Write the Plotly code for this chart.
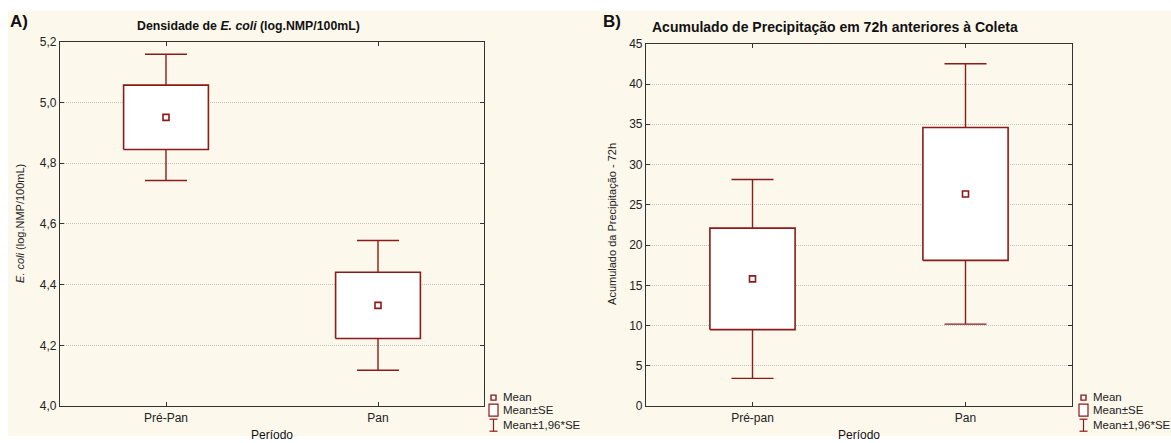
import plotly.graph_objects as go

# ---- data ----
cats_a = ["Pré-Pan", "Pan"]
mean_a = [4.951, 4.332]
se_a = [0.106, 0.109]

cats_b = ["Pré-pan", "Pan"]
mean_b = [15.8, 26.35]
se_b = [6.3, 8.25]

yticks_a = [4.0, 4.2, 4.4, 4.6, 4.8, 5.0, 5.2]
yticks_b = [0, 5, 10, 15, 20, 25, 30, 35, 40, 45]

legend_labels = ["Mean", "Mean±SE", "Mean±1,96*SE"]

RED = "#8b1a1a"
CREAM = "#fdf8ec"
W, H = 1171, 443
FONT = "Liberation Sans, Arial, sans-serif"

# the viewer fits the figure into a slightly shorter area; map screen pixels to paper
Y_OFF, Y_EFF = 6.3, 428.5


def px(x):
    return x / W


def py(y):
    return 1 - (y - Y_OFF) / Y_EFF


fig = go.Figure()


def add_panel(cats, mean, se, xa, ya):
    xs = list(range(len(cats)))
    # whiskers (Mean ± 1.96*SE)
    fig.add_trace(go.Scatter(
        x=xs, y=mean, mode="markers", xaxis=xa, yaxis=ya,
        marker=dict(size=1, color="rgba(0,0,0,0)"),
        error_y=dict(type="data", array=[1.96 * s for s in se], visible=True,
                     color=RED, thickness=1.4, width=21),
        name=legend_labels[2], showlegend=False, hoverinfo="skip"))
    # boxes (Mean ± SE)
    for i, (m, s) in enumerate(zip(mean, se)):
        bx = [i - 0.2, i + 0.2, i + 0.2, i - 0.2, i - 0.2]
        by = [m - s, m - s, m + s, m + s, m - s]
        fig.add_trace(go.Scatter(
            x=bx, y=by, mode="lines", fill="toself", fillcolor="white",
            line=dict(color=RED, width=1.6), xaxis=xa, yaxis=ya,
            name=legend_labels[1], showlegend=False, hoverinfo="skip"))
    # means
    fig.add_trace(go.Scatter(
        x=xs, y=mean, mode="markers", xaxis=xa, yaxis=ya,
        marker=dict(symbol="square-open", size=6, color=RED, line=dict(width=1.6)),
        name=legend_labels[0], showlegend=False, hoverinfo="skip"))


add_panel(cats_a, mean_a, se_a, "x", "y")
add_panel(cats_b, mean_b, se_b, "x2", "y2")

axis_common = dict(showline=True, linecolor="#333", linewidth=1.2, mirror="ticks",
                   ticks="inside", ticklen=4, tickcolor="#333", zeroline=False,
                   tickfont=dict(family=FONT, size=12, color="#222"))

fig.update_layout(
    width=W, height=H, margin=dict(l=0, r=0, t=0, b=0),
    paper_bgcolor="white", plot_bgcolor="white",
    separators=",.",
    font=dict(family=FONT, size=12, color="#222"),
    showlegend=False,
    xaxis=dict(domain=[px(60), px(484)], range=[-0.5, 1.5], tickvals=[0, 1], ticktext=cats_a,
               showgrid=False, anchor="y", **axis_common),
    yaxis=dict(domain=[py(405), py(41)], range=[4.0, 5.2], tickvals=yticks_a,
               tickformat=".1f", showgrid=True, gridcolor="#c4c4c4", griddash="1px,1px",
               gridwidth=1, anchor="x", **axis_common),
    xaxis2=dict(domain=[px(646), px(1072)], range=[-0.5, 1.5], tickvals=[0, 1], ticktext=cats_b,
                showgrid=False, anchor="y2", **axis_common),
    yaxis2=dict(domain=[py(405), py(43)], range=[0, 45], tickvals=yticks_b,
                showgrid=True, gridcolor="#c4c4c4", griddash="1px,1px",
                gridwidth=1, anchor="x2", **axis_common),
)

# cream panel background
fig.add_shape(type="rect", xref="paper", yref="paper", x0=px(8), x1=1, y0=0, y1=py(10),
              fillcolor=CREAM, line=dict(width=0), layer="below")

ann = [
    dict(text="<b>A)</b>", x=px(8), y=py(21), xanchor="left", size=17),
    dict(text="<b>B)</b>", x=px(601), y=py(21), xanchor="left", size=17),
    dict(text="<b>Densidade de <i>E. coli</i> (log.NMP/100mL)</b>", x=px(248), y=py(25),
         xanchor="center", size=12.3),
    dict(text="<b>Acumulado de Precipitação em 72h anteriores à Coleta</b>", x=px(650),
         y=py(26), xanchor="left", size=14),
    dict(text="Período", x=px(272), y=py(433.5), xanchor="center", size=12),
    dict(text="Período", x=px(859), y=py(433.5), xanchor="center", size=12),
]
for a in ann:
    fig.add_annotation(text=a["text"], x=a["x"], y=a["y"], xref="paper", yref="paper",
                       xanchor=a["xanchor"], yanchor="middle", showarrow=False,
                       font=dict(family=FONT, size=a["size"], color="#111"))

fig.add_annotation(text="<i>E. coli</i> (log.NMP/100mL)", x=px(20), y=py(223),
                   xref="paper", yref="paper", textangle=-90, showarrow=False,
                   xanchor="center", yanchor="middle",
                   font=dict(family=FONT, size=11, color="#222"))
fig.add_annotation(text="Acumulado da Precipitação - 72h", x=px(612), y=py(223),
                   xref="paper", yref="paper", textangle=-90, showarrow=False,
                   xanchor="center", yanchor="middle",
                   font=dict(family=FONT, size=11, color="#222"))

# hand-drawn legends (compact, like the original)
for lx in (488, 1078):
    fig.add_shape(type="rect", xref="paper", yref="paper", x0=px(lx + 3), x1=px(lx + 8),
                  y0=py(399), y1=py(394), line=dict(color=RED, width=1.4), fillcolor="white")
    fig.add_shape(type="rect", xref="paper", yref="paper", x0=px(lx + 1), x1=px(lx + 10),
                  y0=py(415), y1=py(403), line=dict(color=RED, width=1.2), fillcolor="white")
    fig.add_shape(type="line", xref="paper", yref="paper", x0=px(lx + 5.5), x1=px(lx + 5.5),
                  y0=py(430), y1=py(418), line=dict(color=RED, width=1.2))
    fig.add_shape(type="line", xref="paper", yref="paper", x0=px(lx + 1.5), x1=px(lx + 9.5),
                  y0=py(418), y1=py(418), line=dict(color=RED, width=1.2))
    fig.add_shape(type="line", xref="paper", yref="paper", x0=px(lx + 1.5), x1=px(lx + 9.5),
                  y0=py(430), y1=py(430), line=dict(color=RED, width=1.2))
    for lab, yy in zip(legend_labels, [396, 409, 424]):
        fig.add_annotation(text=lab, x=px(lx + 13), y=py(yy), xref="paper", yref="paper",
                           xanchor="left", yanchor="middle", showarrow=False,
                           font=dict(family=FONT, size=11.5, color="#222"))

post = ("var s=document.createElement('style');"
        "s.innerHTML='html,body{margin:0!important;padding:0!important;overflow:hidden!important;"
        "background:linear-gradient(to bottom,#ffffff 0px,#ffffff 10px," + CREAM + " 10px)!important;}';"
        "document.head.appendChild(s);"
        "var gd=document.getElementById('{plot_id}');"
        "Plotly.relayout(gd,{width:1171,height:443});")
fig.write_html("out.html", post_script=post, config={"displayModeBar": False})
